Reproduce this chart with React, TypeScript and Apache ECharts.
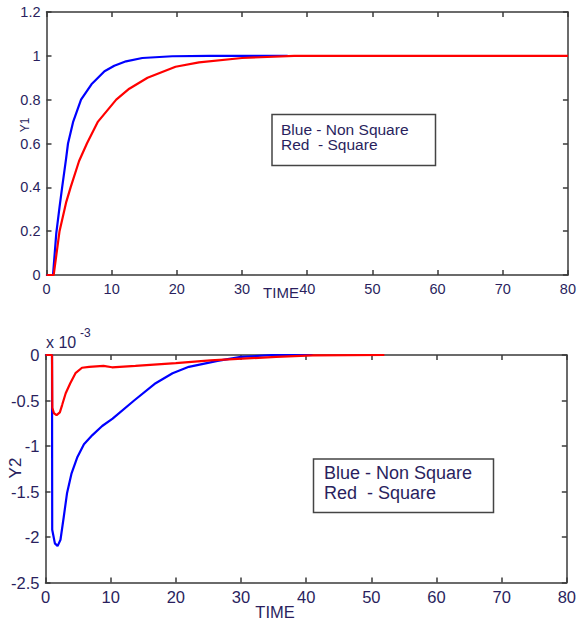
import React, { useEffect, useRef } from "react";
import * as echarts from "echarts";

// ---- Data ----
const xTicks = [0, 10, 20, 30, 40, 50, 60, 70, 80];

// Y1, non-square (blue)
const y1BlueT = [0, 1, 1.5, 2, 2.4, 3, 3.3, 4.1, 5.3, 6.9, 8.9, 10.4, 12.2, 14.7, 19.3, 25, 37];
const y1BlueV = [0, 0, 0.19, 0.31, 0.4, 0.53, 0.6, 0.7, 0.8, 0.87, 0.93, 0.955, 0.975, 0.99, 0.998, 1.0, 1.0];

// Y1, square (red)
const y1RedT = [0, 1.1, 2, 3, 3.7, 5, 6.2, 7.9, 10.7, 12.7, 15.5, 19.8, 23.4, 30, 38, 80];
const y1RedV = [0, 0, 0.2, 0.33, 0.4, 0.52, 0.6, 0.7, 0.8, 0.85, 0.9, 0.95, 0.97, 0.99, 1.0, 1.0];

// Y2 (x 10^-3), non-square (blue)
const y2BlueT = [0, 1, 1.03, 1.44, 1.85, 2.3, 2.8, 3.3, 4.0, 4.9, 5.9, 7.2, 8.7, 10.3, 13.6, 16.9, 19.5, 22, 26.4, 30, 35, 41];
const y2BlueV = [0, 0, -1.92, -2.07, -2.1, -2.03, -1.78, -1.52, -1.3, -1.12, -0.98, -0.88, -0.78, -0.7, -0.5, -0.31, -0.2, -0.13, -0.065, -0.02, 0, 0];

// Y2 (x 10^-3), square (red)
const y2RedT = [0, 1.0, 1.05, 1.3, 1.7, 2.2, 2.55, 3.1, 3.8, 4.6, 5.6, 6.7, 8.9, 10.2, 13.8, 20, 25.3, 31.6, 35.4, 41, 52];
const y2RedV = [0, 0, -0.58, -0.64, -0.66, -0.63, -0.55, -0.42, -0.31, -0.2, -0.14, -0.13, -0.12, -0.135, -0.12, -0.09, -0.06, -0.035, -0.02, -0.005, 0];

const legendLines = ["Blue - Non Square", "Red  - Square"];

const pairs = (t: number[], v: number[]) => t.map((x, i) => [x, v[i]]);

const FONT = "Liberation Sans, Arial, sans-serif";
const LABEL_COLOR = "#2a1f5e";
const AXIS_COLOR = "#3a3a3a";

export default function App() {
  const ref = useRef<HTMLDivElement>(null);

  useEffect(() => {
    if (!ref.current) return;
    const chart = echarts.init(ref.current, undefined, { renderer: "svg" });
    const lineStyle = { color: AXIS_COLOR, width: 1.5 };

    const mkX = (gridIndex: number, position: "bottom" | "top", fs: number, showLabel: boolean) => ({
      type: "value",
      gridIndex,
      position,
      min: xTicks[0],
      max: xTicks[xTicks.length - 1],
      interval: 10,
      axisLine: { show: true, onZero: false, lineStyle },
      axisTick: { show: true, inside: true, length: 5, lineStyle },
      axisLabel: { show: showLabel, color: LABEL_COLOR, fontSize: fs, fontFamily: FONT, margin: 6 },
      splitLine: { show: false },
    });
    const mkY = (
      gridIndex: number,
      position: "left" | "right",
      min: number,
      max: number,
      interval: number,
      fs: number,
      showLabel: boolean
    ) => ({
      type: "value",
      gridIndex,
      position,
      min,
      max,
      interval,
      axisLine: { show: true, onZero: false, lineStyle },
      axisTick: { show: true, inside: true, length: 5, lineStyle },
      axisLabel: { show: showLabel, color: LABEL_COLOR, fontSize: fs, fontFamily: FONT, margin: 6 },
      splitLine: { show: false },
    });

    const legendBox = (x: number, y: number, w: number, h: number, fs: number, lh: number, pad: number) => ({
      type: "group",
      x,
      y,
      children: [
        {
          type: "rect",
          shape: { x: 0, y: 0, width: w, height: h },
          style: { fill: "#fff", stroke: "#444", lineWidth: 1.5 },
        },
        ...legendLines.map((s, i) => ({
          type: "text",
          x: pad,
          y: lh * (i + 1) - lh / 2 + (h - lh * 2) / 2 - 3,
          style: {
            text: s,
            fill: LABEL_COLOR,
            fontSize: fs,
            fontFamily: FONT,
            textVerticalAlign: "middle",
          },
        })),
      ],
    });

    const option: any = {
      animation: false,
      backgroundColor: "#fff",
      grid: [
        { left: 46.5, top: 12, width: 521.5, height: 263, containLabel: false },
        { left: 45.5, top: 355, width: 527.5, height: 227.5, containLabel: false },
      ],
      xAxis: [mkX(0, "bottom", 14.5, true), mkX(0, "top", 14.5, false), mkX(1, "bottom", 16.5, true), mkX(1, "top", 16.5, false)],
      yAxis: [
        mkY(0, "left", 0, 1.2, 0.2, 14.5, true),
        mkY(0, "right", 0, 1.2, 0.2, 14.5, false),
        mkY(1, "left", -2.5, 0, 0.5, 16.5, true),
        mkY(1, "right", -2.5, 0, 0.5, 16.5, false),
      ],
      series: [
        {
          type: "line",
          xAxisIndex: 0,
          yAxisIndex: 0,
          data: pairs(y1BlueT, y1BlueV),
          showSymbol: false,
          lineStyle: { color: "#0000ff", width: 2.2 },
        },
        {
          type: "line",
          xAxisIndex: 0,
          yAxisIndex: 0,
          data: pairs(y1RedT, y1RedV),
          showSymbol: false,
          lineStyle: { color: "#ff0000", width: 2.2 },
        },
        {
          type: "line",
          xAxisIndex: 2,
          yAxisIndex: 2,
          data: pairs(y2BlueT, y2BlueV),
          showSymbol: false,
          lineStyle: { color: "#0000ff", width: 2.2 },
        },
        {
          type: "line",
          xAxisIndex: 2,
          yAxisIndex: 2,
          data: pairs(y2RedT, y2RedV),
          showSymbol: false,
          lineStyle: { color: "#ff0000", width: 2.2 },
        },
      ],
      graphic: [
        {
          type: "text",
          x: 25,
          y: 125,
          rotation: Math.PI / 2,
          style: { text: "Y1", fill: LABEL_COLOR, fontSize: 12, fontFamily: FONT, textAlign: "center", textVerticalAlign: "middle" },
        },
        {
          type: "text",
          x: 281,
          y: 292,
          style: { text: "TIME", fill: LABEL_COLOR, fontSize: 15, fontFamily: FONT, textAlign: "center", textVerticalAlign: "middle" },
        },
        {
          type: "text",
          x: 15,
          y: 468,
          rotation: Math.PI / 2,
          style: { text: "Y2", fill: LABEL_COLOR, fontSize: 17, fontFamily: FONT, textAlign: "center", textVerticalAlign: "middle" },
        },
        {
          type: "text",
          x: 275,
          y: 612,
          style: { text: "TIME", fill: LABEL_COLOR, fontSize: 16.5, fontFamily: FONT, textAlign: "center", textVerticalAlign: "middle" },
        },
        {
          type: "text",
          x: 46,
          y: 342,
          style: { text: "x 10", fill: LABEL_COLOR, fontSize: 16, fontFamily: FONT, textAlign: "left", textVerticalAlign: "middle" },
        },
        {
          type: "text",
          x: 80,
          y: 333,
          style: { text: "-3", fill: LABEL_COLOR, fontSize: 12, fontFamily: FONT, textAlign: "left", textVerticalAlign: "middle" },
        },
        legendBox(272, 114.5, 163.5, 51, 15.5, 15.5, 9),
        legendBox(313.5, 459, 180, 53.5, 18, 20, 10.5),
      ],
    };

    chart.setOption(option);
    return () => chart.dispose();
  }, []);

  return <div ref={ref} style={{ position: "absolute", left: 0, top: 0, width: 579, height: 623 }} />;
}
